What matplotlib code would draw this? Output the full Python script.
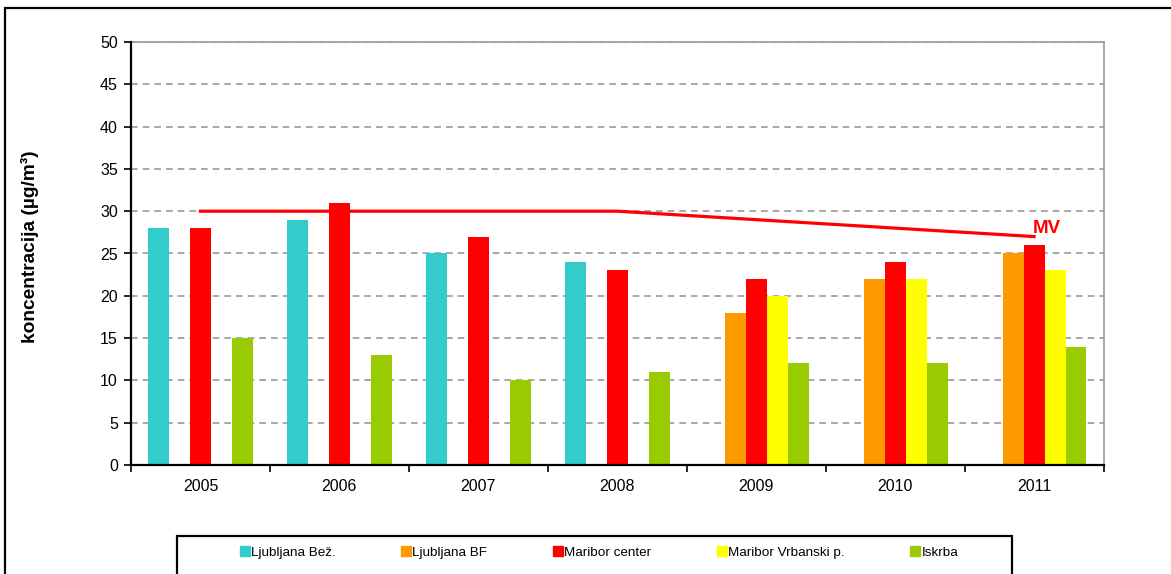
import numpy as np
import matplotlib
matplotlib.use('Agg')
import matplotlib.pyplot as plt
from matplotlib.patches import Rectangle
from matplotlib.lines import Line2D

# データ (µg/m3)
years = ['2005', '2006', '2007', '2008', '2009', '2010', '2011']
ljBez = [28, 29, 25, 24, np.nan, np.nan, np.nan]
ljBf = [np.nan, np.nan, np.nan, np.nan, 18, 22, 25]
mbCenter = [28, 31, 27, 23, 22, 24, 26]
mbVrbanski = [np.nan, np.nan, np.nan, np.nan, 20, 22, 23]
iskrba = [15, 13, 10, 11, 12, 12, 14]
mejnaVrednost = [30, 30, 30, 30, 29, 28, 27]

seriesNames = ['Ljubljana Bež.', 'Ljubljana BF', 'Maribor center',
               'Maribor Vrbanski p.', 'Iskrba']
seriesColors = ['#33CCCC', '#FF9900', '#FF0000', '#FFFF00', '#99CC00']

# 設定値
class Settings:
    output_path = 'out.png'
    fig_size = (11.71, 5.74)
    dpi = 100
    bar_width = 0.151
    font = ['Liberation Sans', 'DejaVu Sans']


plt.rcParams['font.family'] = Settings.font


def plotBars(ax):
    """棒グラフ"""
    x = np.arange(len(years))
    allSeries = [ljBez, ljBf, mbCenter, mbVrbanski, iskrba]
    for i, (vals, name, color) in enumerate(zip(allSeries, seriesNames, seriesColors)):
        ax.bar(x + (i - 2) * Settings.bar_width, vals, width=Settings.bar_width,
               color=color, label=name, zorder=3)


def plotLimit(ax):
    """MV ライン"""
    x = np.arange(len(years))
    ax.plot(x, mejnaVrednost, color='#FF0000', linewidth=2.3, zorder=4)
    ax.annotate('MV', xy=(x[-1], mejnaVrednost[-1]), xytext=(-1, 0),
                textcoords='offset points', ha='left', va='bottom',
                color='#FF0000', fontsize=13.5, fontweight='bold', zorder=5)


def setGraphStyle(fig, ax):
    """見た目設定"""
    n = len(years)
    ax.set_xlim(-0.5, n - 0.5)
    ax.set_ylim(0, 50)
    ax.set_yticks(np.arange(0, 51, 5))
    ax.set_xticks(np.arange(n))
    ax.set_xticklabels(years)
    ax.set_xticks(np.arange(n + 1) - 0.5, minor=True)
    ax.tick_params(axis='x', which='major', length=0, pad=10, labelsize=11.5)
    ax.tick_params(axis='x', which='minor', length=5, width=1.2, direction='out')
    ax.tick_params(axis='y', length=5, width=1.2, direction='out', pad=4.5, labelsize=11.5)

    ax.yaxis.grid(True, color='#999999', linestyle=(0, (4, 3)), linewidth=1.2, zorder=0)
    ax.set_axisbelow(True)
    for side in ['left', 'bottom']:
        ax.spines[side].set_color('black')
        ax.spines[side].set_linewidth(1.6)
        ax.spines[side].set_zorder(6)
    for side in ['top', 'right']:
        ax.spines[side].set_color('#999999')
        ax.spines[side].set_linewidth(1.2)

    fig.text(30 / 1171, 1 - 247 / 574, 'koncentracija (µg/m³)', rotation=90,
             ha='center', va='center', fontsize=13.8, fontweight='bold')


def addFrames(fig):
    """外枠と凡例"""
    # 外枠
    fig.patches.append(Rectangle((5 / 1171, -0.05), 1.2, 1.05 - 8 / 574,
                                 transform=fig.transFigure, fill=False,
                                 edgecolor='black', linewidth=1.6))
    # 凡例の枠
    fig.patches.append(Rectangle((177 / 1171, -0.05), (1012 - 177) / 1171,
                                 0.05 + (574 - 536) / 574,
                                 transform=fig.transFigure, fill=False,
                                 edgecolor='black', linewidth=1.6))
    handles = [Line2D([], [], marker='s', linestyle='none', markersize=6.5,
                      markerfacecolor=c, markeredgecolor=c) for c in seriesColors]
    fig.legend(handles, seriesNames, ncol=5, loc='center left',
               bbox_to_anchor=(240 / 1171, 1 - 553 / 574), frameon=False,
               handlelength=0.7, handletextpad=0.1,
               columnspacing=4.9, borderpad=0, borderaxespad=0,
               prop={'size': 9.7})


def main():
    fig = plt.figure(figsize=Settings.fig_size, dpi=Settings.dpi)
    ax = fig.add_axes([131 / 1171, 1 - 465 / 574, (1103.5 - 131) / 1171, (465 - 42) / 574])
    plotBars(ax)
    plotLimit(ax)
    setGraphStyle(fig, ax)
    addFrames(fig)
    fig.savefig(Settings.output_path, dpi=Settings.dpi)
    plt.close(fig)


if __name__ == "__main__":
    main()
